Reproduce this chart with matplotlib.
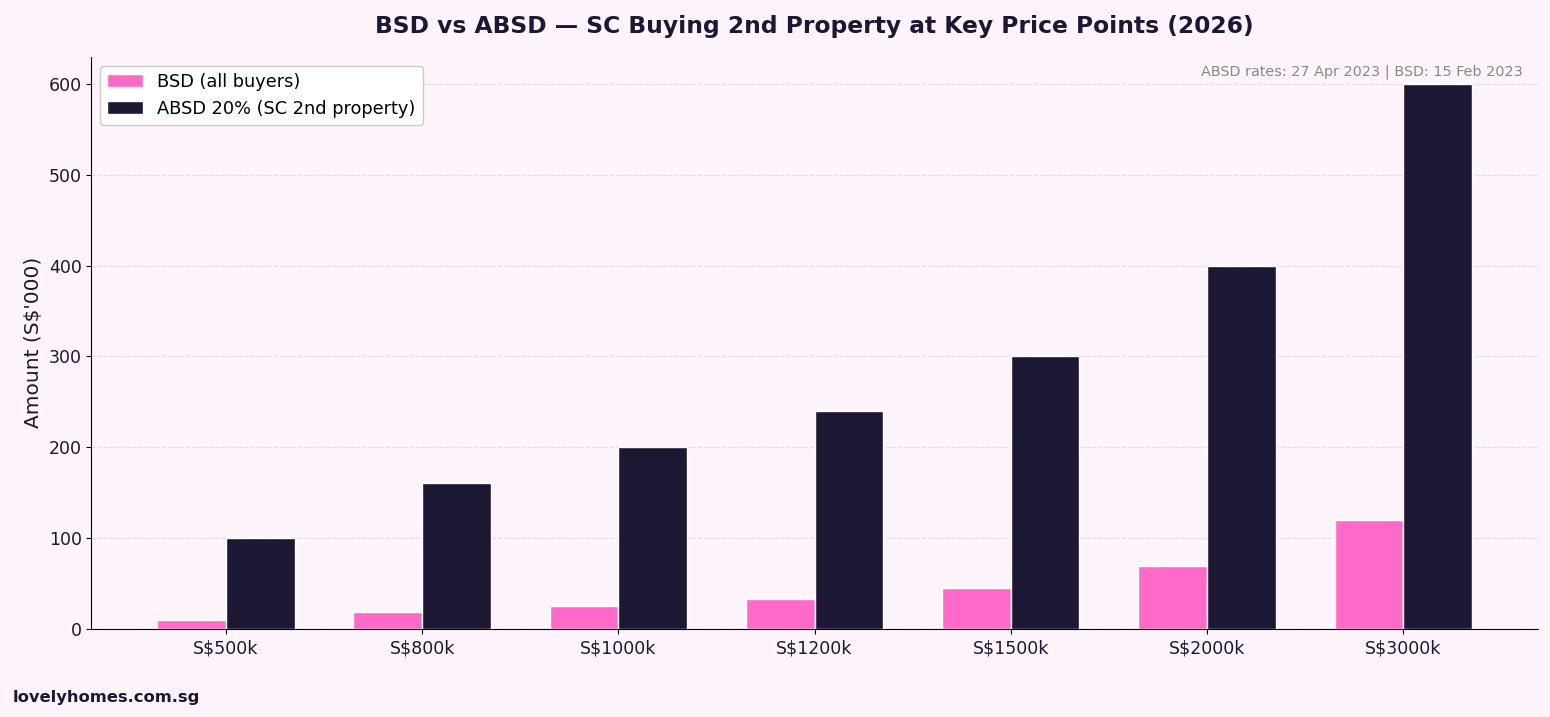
import matplotlib.pyplot as plt
import numpy as np

# Prezzi di riferimento e imposte (S$'000)
PRICE_LABELS = ["S$500k", "S$800k", "S$1000k", "S$1200k", "S$1500k", "S$2000k", "S$3000k"]
BSD_VALUES = [9.6, 18.6, 24.6, 32.6, 44.6, 69.6, 119.6]
ABSD_VALUES = [100, 160, 200, 240, 300, 400, 600]

BG = "#fdf5fb"
PINK = "#ff69c8"
DARK = "#1c1733"

fig, ax = plt.subplots(figsize=(15.5, 7.17), dpi=100)
fig.patch.set_facecolor(BG)
ax.set_facecolor(BG)

x = np.arange(len(PRICE_LABELS))
w = 0.35
ax.bar(x - w / 2, BSD_VALUES, w, color=PINK, edgecolor="white",
       linewidth=1, label="BSD (all buyers)", zorder=3)
ax.bar(x + w / 2, ABSD_VALUES, w, color=DARK, edgecolor="white",
       linewidth=1, label="ABSD 20% (SC 2nd property)", zorder=3)

ax.set_xticks(x)
ax.set_xticklabels(PRICE_LABELS, fontsize=12.5, color=DARK)
ax.tick_params(axis="y", labelsize=12.5, labelcolor=DARK)
ax.tick_params(axis="x", pad=4)
ax.set_ylabel("Amount (S$'000)", fontsize=14.5, color=DARK, labelpad=4)
ax.set_title("BSD vs ABSD — SC Buying 2nd Property at Key Price Points (2026)",
             fontsize=16.8, fontweight="bold", color=DARK, pad=17)

ax.grid(axis="y", linestyle="--", color="#e8d8e4", linewidth=0.8, zorder=0)
ax.set_axisbelow(True)
for s in ("top", "right"):
    ax.spines[s].set_visible(False)

ax.legend(loc="upper left", fontsize=12.8, framealpha=1, edgecolor="#cccccc")
ax.text(0.99, 0.986, "ABSD rates: 27 Apr 2023 | BSD: 15 Feb 2023",
        transform=ax.transAxes, ha="right", va="top", fontsize=10.4, color="#888888")

fig.text(0.008, 0.017, "lovelyhomes.com.sg", fontsize=11.8, fontweight="bold",
         color=DARK, ha="left", va="bottom")

fig.subplots_adjust(left=0.059, right=0.992, top=0.921, bottom=0.123)
fig.savefig("out.png", dpi=100, facecolor=BG)
